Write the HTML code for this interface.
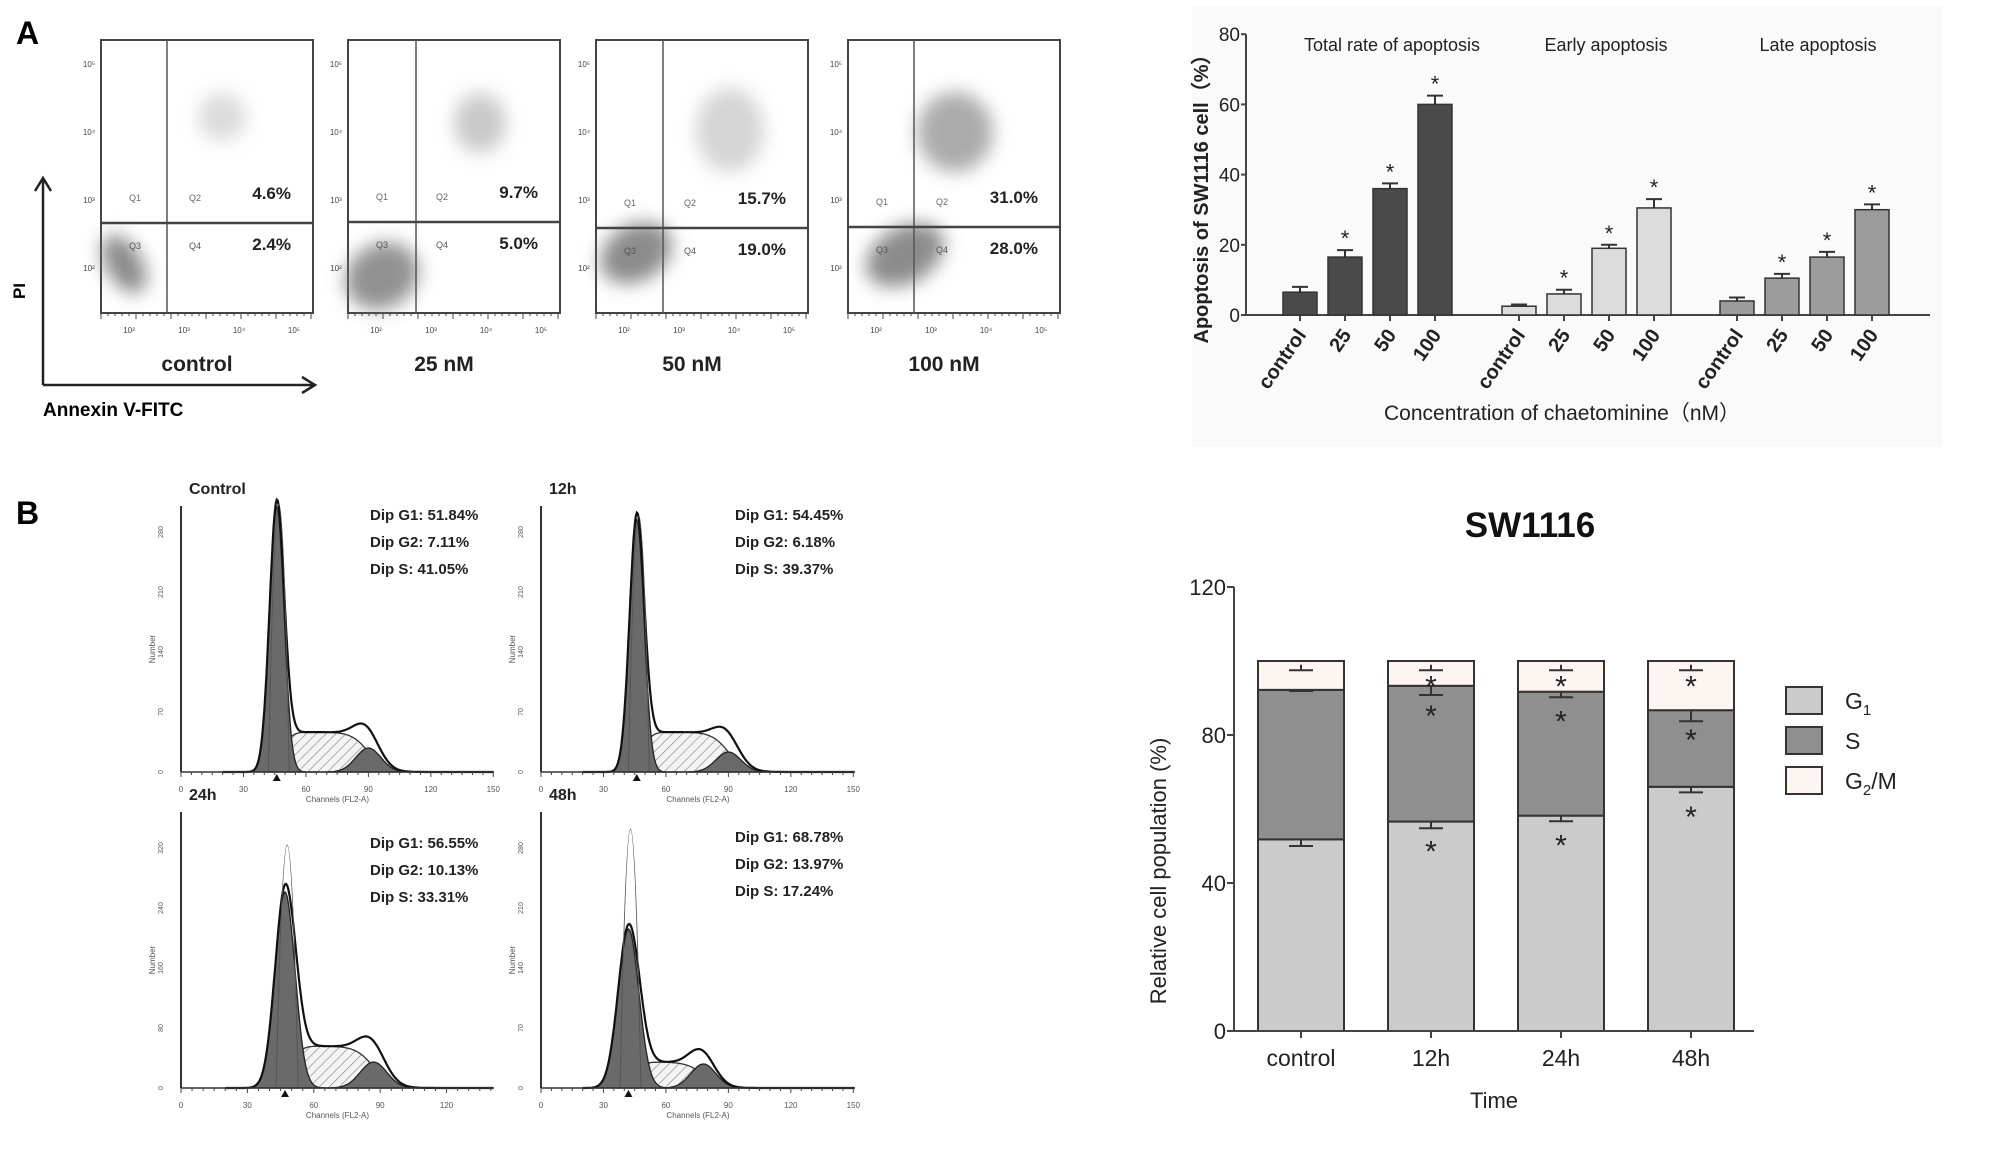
<!DOCTYPE html>
<html><head><meta charset="utf-8"><style>
html,body{margin:0;padding:0;background:#fff;overflow:hidden;}
svg{display:block;font-family:"Liberation Sans",Arial,sans-serif;}
</style></head><body>
<svg id="fig" width="2008" height="1153" viewBox="0 0 2008 1153" xmlns="http://www.w3.org/2000/svg">
<defs>
<pattern id="hatch" width="7" height="7" patternUnits="userSpaceOnUse" patternTransform="rotate(45)"><rect width="7" height="7" fill="#f4f4f4"/><line x1="0" y1="0" x2="0" y2="7" stroke="#888" stroke-width="1.3"/></pattern>
<filter id="blur10" x="-50%" y="-50%" width="200%" height="200%"><feGaussianBlur stdDeviation="9"/></filter>
</defs>
<rect x="1192" y="6" width="751" height="441" fill="#fafafa"/>
<text x="16" y="44" font-size="32" font-weight="bold">A</text>
<text x="16" y="524" font-size="32" font-weight="bold">B</text>
<g id="flow"></g>
<g id="barA"></g>
<g id="hist"></g>
<g id="barB"></g>
</svg>
<script>
const NS="http://www.w3.org/2000/svg";
function mk(parent,tag,attrs,text){const e=document.createElementNS(NS,tag);for(const k in attrs)e.setAttribute(k,attrs[k]);if(text!==undefined)e.textContent=text;parent.appendChild(e);return e;}

/* ---------- Panel A: flow cytometry dot plots ---------- */
const flowLabels=["control","25 nM","50 nM","100 nM"];
const flowQ2=["4.6%","9.7%","15.7%","31.0%"];
const flowQ4=["2.4%","5.0%","19.0%","28.0%"];
const flowBoxX=[101,348,596,848];
const flowVLine=[167,416,663,914];
const flowHLine=[223,222,228,227];
const flowQ3Density=[0.85,0.8,0.85,0.85];
const flowQ2Density=[0.3,0.45,0.35,0.7];
const flowQ3Size=[[18,32],[38,32],[38,28],[42,28]];
const flowQ2Size=[[24,24],[26,30],[34,42],[38,40]];
const flowQ2Pos=[[222,117],[480,123],[730,130],[955,132]];
const flowQ3Pos=[[124,264],[382,276],[636,253],[905,255]];
const flow=document.getElementById('flow');
flowLabels.forEach((lab,i)=>{
  const x=flowBoxX[i],y=40,w=212,h=273;
  const g=mk(flow,'g',{});
  
  
  mk(g,'rect',{x:x,y:y,width:w,height:h,fill:'#fff',stroke:'#444','stroke-width':2});
  const q3=mk(g,'ellipse',{cx:flowQ3Pos[i][0],cy:flowQ3Pos[i][1],rx:flowQ3Size[i][0],ry:flowQ3Size[i][1],fill:'#777','fill-opacity':flowQ3Density[i],filter:'url(#blur10)',transform:'rotate(-30 '+flowQ3Pos[i][0]+' '+flowQ3Pos[i][1]+')'});
  
  
  const q2=mk(g,'ellipse',{cx:flowQ2Pos[i][0],cy:flowQ2Pos[i][1],rx:flowQ2Size[i][0],ry:flowQ2Size[i][1],fill:'#888','fill-opacity':flowQ2Density[i],filter:'url(#blur10)'});
  
  
  mk(g,'line',{x1:flowVLine[i],y1:y,x2:flowVLine[i],y2:y+h,stroke:'#555','stroke-width':1.5});
  mk(g,'line',{x1:x,y1:flowHLine[i],x2:x+w,y2:flowHLine[i],stroke:'#444','stroke-width':2.5});
  mk(g,'text',{x:x+28,y:flowHLine[i]-22,'font-size':9,fill:'#666'},'Q1');
  mk(g,'text',{x:x+88,y:flowHLine[i]-22,'font-size':9,fill:'#666'},'Q2');
  mk(g,'text',{x:x+28,y:flowHLine[i]+26,'font-size':9,fill:'#555'},'Q3');
  mk(g,'text',{x:x+88,y:flowHLine[i]+26,'font-size':9,fill:'#555'},'Q4');
  const t2=mk(g,'text',{x:x+190,y:flowHLine[i]-24,'font-size':17,'font-weight':'bold','text-anchor':'end',fill:'#222'},flowQ2[i]);
  
  
  const t4=mk(g,'text',{x:x+190,y:flowHLine[i]+27,'font-size':17,'font-weight':'bold','text-anchor':'end',fill:'#222'},flowQ4[i]);
  
  
  ['10\u00b2','10\u00b3','10\u2074','10\u2075'].forEach((tl,k)=>{
    mk(g,'text',{x:x+28+k*55,y:y+h+20,'font-size':8,fill:'#444','text-anchor':'middle'},tl);
    mk(g,'text',{x:x-12,y:y+h-42-k*68,'font-size':8,fill:'#444','text-anchor':'middle'},tl);
  });
  for(let k=0;k<31;k++){mk(g,'line',{x1:x+k*7,y1:y+h,x2:x+k*7,y2:y+h+(k%5?3:6),stroke:'#444'});}
  const lt=mk(g,'text',{x:x+w/2-10,y:371,'font-size':21,'font-weight':'bold','text-anchor':'middle',fill:'#222'},lab);
  
  
});
mk(flow,'path',{d:'M43 385 L43 178 M35 191 L43 178 L51 191 M43 385 L315 385 M302 377 L315 385 L302 393',stroke:'#222','stroke-width':2.5,fill:'none'});
mk(flow,'text',{x:25,y:291,'font-size':17,'font-weight':'bold','text-anchor':'middle',transform:'rotate(-90 25 291)'},'PI');
mk(flow,'text',{x:43,y:416,'font-size':19,'font-weight':'bold'},'Annexin V-FITC');

/* ---------- Panel A: apoptosis bar chart ---------- */
const groupTitles=["Total rate of apoptosis","Early apoptosis","Late apoptosis"];
const doseLabels=["control","25","50","100"];
const totalVals=[6.5,16.5,36,60];
const totalErr=[1.5,2,1.5,2.5];
const earlyVals=[2.5,6,19,30.5];
const earlyErr=[0.5,1.2,1,2.5];
const lateVals=[4,10.5,16.5,30];
const lateErr=[1,1.2,1.5,1.5];
const sigA=[false,true,true,true];
const yTicksA=[0,20,40,60,80];
(function(){
  const g=document.getElementById('barA');
  const y0=315,ppu=3.51,xAx=1246;
  const ya=v=>y0-v*ppu;
  const groups=[[totalVals,totalErr,'#4a4a4a'],[earlyVals,earlyErr,'#dcdcdc'],[lateVals,lateErr,'#9c9c9c']];
  const groupStart=[1300,1519,1737],step=45,bw=34;
  mk(g,'line',{x1:xAx,y1:ya(80),x2:xAx,y2:y0,stroke:'#444','stroke-width':2});
  mk(g,'line',{x1:xAx,y1:y0,x2:1930,y2:y0,stroke:'#444','stroke-width':2});
  yTicksA.forEach(t=>{
    mk(g,'line',{x1:xAx-5,y1:ya(t),x2:xAx,y2:ya(t),stroke:'#444','stroke-width':2});
    const tl=mk(g,'text',{x:xAx-6,y:ya(t)+7,'font-size':19,'text-anchor':'end',fill:'#222'},t);
    
    
  });
  groups.forEach((gr,gi)=>{
    const [vals,errs,col]=gr;
    const tt=mk(g,'text',{x:[1392,1606,1818][gi],y:51,'font-size':18,'text-anchor':'middle',fill:'#222'},groupTitles[gi]);
    
    
    vals.forEach((v,i)=>{
      const cx=groupStart[gi]+i*step;
      const b=mk(g,'rect',{x:cx-bw/2,y:ya(v),width:bw,height:v*ppu,fill:col,stroke:'#333','stroke-width':1.5});
      
      
      const e=ya(v+errs[i]);
      mk(g,'path',{d:'M'+cx+' '+ya(v)+' V'+e+' M'+(cx-8)+' '+e+' H'+(cx+8),stroke:'#333','stroke-width':2,fill:'none'});
      if(sigA[i]){const s=mk(g,'text',{x:cx,y:e-4,'font-size':22,'text-anchor':'middle',fill:'#222'},'*');
        
        }
      mk(g,'line',{x1:cx,y1:y0,x2:cx,y2:y0+6,stroke:'#444','stroke-width':2});
      const xl=mk(g,'text',{x:cx+7,y:y0+20,'font-size':20,'font-weight':'bold','text-anchor':'end',fill:'#222',transform:'rotate(-55 '+(cx+7)+' '+(y0+20)+')'},doseLabels[i]);
      
      
    });
  });
  const yl=mk(g,'text',{x:1208,y:194,'font-size':20,'font-weight':'bold','text-anchor':'middle',fill:'#222',transform:'rotate(-90 1208 194)'},'Apoptosis of SW1116 cell\uff08%\uff09');
  
  
  const xt=mk(g,'text',{x:1562,y:420,'font-size':21,'text-anchor':'middle',fill:'#222'},'Concentration of chaetominine\uff08nM\uff09');
  
  
})();

/* ---------- Panel B: DNA histograms ---------- */
const histTitles=["Control","12h","24h","48h"];
const histG1=["Dip G1: 51.84%","Dip G1: 54.45%","Dip G1: 56.55%","Dip G1: 68.78%"];
const histG2=["Dip G2: 7.11%","Dip G2: 6.18%","Dip G2: 10.13%","Dip G2: 13.97%"];
const histS=["Dip S: 41.05%","Dip S: 39.37%","Dip S: 33.31%","Dip S: 17.24%"];
const histG1Center=[46,46,47,42];
const histG1Height=[265,252,196,159];
const histG1Sigma=[3.5,3.5,4.5,5];
const histSLevel=[40,40,42,26];
const histG2Center=[90,90,87,78];
const histG2Height=[24,20,26,24];
const histPeakRaw=[268,256,243,259];
(function(){
  const g=document.getElementById('hist');
  const pos=[[181,494,772,506,2.082,520,370],[541,855,772,506,2.082,520,735],[181,494,1088,812,2.213,848,370],[541,855,1088,812,2.082,842,735]];
  const gauss=(x,c,s)=>Math.exp(-0.5*((x-c)/s)**2);
  const sig=x=>1/(1+Math.exp(-x));
  histTitles.forEach((t,i)=>{
    const [x0,x1,yb,yt,sc,ty,tx]=pos[i];
    const hg=mk(g,'g',{});
    
    
    const hx=ch=>x0+ch*sc;
    const maxCh=(x1-x0)/sc;
    const g1=ch=>histG1Height[i]*gauss(ch,histG1Center[i],histG1Sigma[i]);
    const sC=ch=>histSLevel[i]*sig((ch-histG1Center[i]-3)/2)*sig((histG2Center[i]-ch)/4);
    const g2=ch=>histG2Height[i]*gauss(ch,histG2Center[i],6);
    const path=(f,from,to)=>{let d='M'+hx(from)+' '+yb;for(let c=from;c<=to;c+=0.5)d+=' L'+hx(c).toFixed(1)+' '+(yb-f(c)).toFixed(1);return d+' L'+hx(to)+' '+yb+' Z';};
    mk(hg,'path',{d:path(sC,histG1Center[i]-6,Math.min(maxCh,histG2Center[i]+20)),fill:'url(#hatch)',stroke:'#333','stroke-width':1.3});
    mk(hg,'path',{d:path(g1,histG1Center[i]-20,histG1Center[i]+20),fill:'#6a6a6a',stroke:'#222','stroke-width':1.3});
    mk(hg,'path',{d:path(g2,histG2Center[i]-20,Math.min(maxCh,histG2Center[i]+20)),fill:'#6a6a6a',stroke:'#222','stroke-width':1.3});
    let d='';for(let c=20;c<=maxCh;c+=0.5){const v=g1(c)+sC(c)+g2(c);d+=(d?' L':'M')+hx(c).toFixed(1)+' '+(yb-v).toFixed(1);}
    mk(hg,'path',{d:d,fill:'none',stroke:'#111','stroke-width':2.2});
    const pc=histG1Center[i]+1;
    mk(hg,'path',{d:'M'+hx(pc-5)+' '+yb+' Q'+hx(pc)+' '+(yb-histPeakRaw[i]*2)+' '+hx(pc+5)+' '+yb,fill:'none',stroke:'#555','stroke-width':1});
    mk(hg,'line',{x1:x0,y1:yt,x2:x0,y2:yb,stroke:'#333','stroke-width':2});
    mk(hg,'line',{x1:x0,y1:yb,x2:x1,y2:yb,stroke:'#333','stroke-width':1.5});
    for(let c=0;c<=maxCh;c+=5)mk(hg,'line',{x1:hx(c),y1:yb,x2:hx(c),y2:yb+(c%30?3:5),stroke:'#444'});
    for(let c=0;c<=maxCh;c+=30)mk(hg,'text',{x:hx(c),y:yb+20,'font-size':8,'text-anchor':'middle',fill:'#555'},c);
    for(let k=0;k<5;k++)mk(hg,'text',{x:x0-18,y:yb-k*60,'font-size':7,'text-anchor':'middle',fill:'#555',transform:'rotate(-90 '+(x0-18)+' '+(yb-k*60)+')'},k*(i==2?80:70));
    mk(hg,'text',{x:(x0+x1)/2,y:yb+30,'font-size':8,'text-anchor':'middle',fill:'#555'},'Channels (FL2-A)');
    mk(hg,'text',{x:x0-26,y:(yb+yt)/2+10,'font-size':8,'text-anchor':'middle',fill:'#555',transform:'rotate(-90 '+(x0-26)+' '+((yb+yt)/2+10)+')'},'Number');
    mk(hg,'path',{d:'M'+(hx(histG1Center[i])-4)+' '+(yb+9)+' l4 -7 l4 7 z',fill:'#111'});
    const tt=mk(hg,'text',{x:x0+8,y:yt-12,'font-size':16,'font-weight':'bold',fill:'#222'},t);
    
    
    [histG1[i],histG2[i],histS[i]].forEach((s,k)=>{
      const st=mk(hg,'text',{x:tx,y:ty+k*27,'font-size':15,'font-weight':'bold',fill:'#222'},s);
      
      
    });
  });
})();

/* ---------- Panel B: stacked cell-cycle chart ---------- */
const timeLabels=["control","12h","24h","48h"];
const g1Vals=[51.8,56.6,58.2,66];
const sVals=[40.4,36.7,33.5,20.7];
const g2mVals=[7.8,6.7,8.3,13.3];
const g1Err=[1.8,1.8,1.5,1.5];
const sErr=[0.3,2.5,1.5,3];
const g2mErr=[1.5,1.5,1.5,1.5];
const sigB=[false,true,true,true];
const yTicksB=[0,40,80,120];
(function(){
  const g=document.getElementById('barB');
  const y0=1031,ppu=3.70,xAx=1234;
  const yb=v=>y0-v*ppu;
  const centers=[1301,1431,1561,1691],bw=86;
  const t=mk(g,'text',{x:1530,y:537,'font-size':35,'font-weight':'bold','text-anchor':'middle',fill:'#111'},'SW1116');
  
  
  const segs=[[g1Vals,g1Err,'#cbcbcb','g1'],[sVals,sErr,'#8f8f8f','s'],[g2mVals,g2mErr,'#fdf5f2','g2m']];
  timeLabels.forEach((lab,i)=>{
    let base=0;const cx=centers[i];
    segs.forEach((sg,si)=>{
      const [vals,errs,col,nm]=sg;const top=base+vals[i];
      const r=mk(g,'rect',{x:cx-bw/2,y:yb(top),width:bw,height:vals[i]*ppu,fill:col,stroke:'#333','stroke-width':2});
      
      
      const bound=si==2?top-1:top;const e=yb(bound-errs[i]);
      mk(g,'path',{d:'M'+cx+' '+yb(bound)+' V'+e+' M'+(cx-12)+' '+e+' H'+(cx+12),stroke:'#333','stroke-width':2,fill:'none'});
      if(sigB[i]){const s=mk(g,'text',{x:cx,y:yb(bound)+(si==2?32:40),'font-size':30,'text-anchor':'middle',fill:'#222'},'*');
        
        }
      base=top;
    });
    mk(g,'line',{x1:cx,y1:y0,x2:cx,y2:y0+7,stroke:'#444','stroke-width':2});
    const xl=mk(g,'text',{x:cx,y:1066,'font-size':23,'text-anchor':'middle',fill:'#222'},lab);
    
    
  });
  mk(g,'line',{x1:xAx,y1:yb(120),x2:xAx,y2:y0,stroke:'#444','stroke-width':2});
  mk(g,'line',{x1:xAx,y1:y0,x2:1754,y2:y0,stroke:'#444','stroke-width':2});
  yTicksB.forEach(v=>{
    mk(g,'line',{x1:xAx-7,y1:yb(v),x2:xAx,y2:yb(v),stroke:'#444','stroke-width':2});
    const tl=mk(g,'text',{x:xAx-8,y:yb(v)+8,'font-size':22,'text-anchor':'end',fill:'#222'},v);
    
    
  });
  const yl=mk(g,'text',{x:1166,y:871,'font-size':22,'text-anchor':'middle',fill:'#222',transform:'rotate(-90 1166 871)'},'Relative cell population (%)');
  
  
  const xt=mk(g,'text',{x:1494,y:1108,'font-size':22,'text-anchor':'middle',fill:'#222'},'Time');
  
  
  const leg=[['#cbcbcb','G','1',''],['#8f8f8f','S','',''],['#fdf5f2','G','2','/M']];
  leg.forEach((l,k)=>{
    const ly=687+k*40;
    const lr=mk(g,'rect',{x:1786,y:ly,width:36,height:27,fill:l[0],stroke:'#333','stroke-width':2});
    
    
    const tx=mk(g,'text',{x:1845,y:ly+22,'font-size':23,fill:'#222'});
    
    
    tx.appendChild(document.createTextNode(l[1]));
    if(l[2]){mk(tx,'tspan',{'font-size':15,dy:6},l[2]);}
    if(l[3]){mk(tx,'tspan',{dy:-6},l[3]);}
  });
})();
</script>
</body></html>
